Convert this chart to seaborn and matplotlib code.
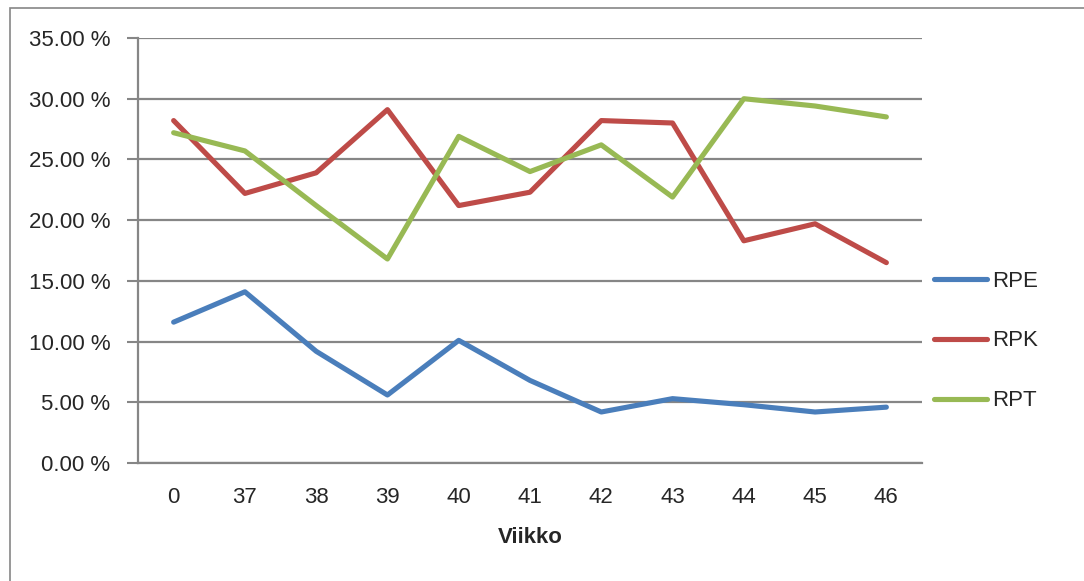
import pandas as pd
import numpy as np
import matplotlib.pyplot as plt
import seaborn as sns
from matplotlib.patches import Rectangle
from matplotlib.ticker import FuncFormatter, FixedLocator

# Viikot ja sarjojen arvot (%)
viikot = ["0", "37", "38", "39", "40", "41", "42", "43", "44", "45", "46"]
rpe = [11.6, 14.1, 9.2, 5.6, 10.1, 6.8, 4.2, 5.3, 4.8, 4.2, 4.6]
rpk = [28.2, 22.2, 23.9, 29.1, 21.2, 22.3, 28.2, 28.0, 18.3, 19.7, 16.5]
rpt = [27.2, 25.7, 21.2, 16.8, 26.9, 24.0, 26.2, 21.9, 30.0, 29.4, 28.5]

df = pd.DataFrame({"Viikko": viikot * 3,
                   "Arvo": rpe + rpk + rpt,
                   "Sarja": ["RPE"] * 11 + ["RPK"] * 11 + ["RPT"] * 11})

sns.set_style("white")
plt.rcParams['font.family'] = ['Liberation Sans', 'DejaVu Sans']

fig = plt.figure(figsize=(10.84, 5.81), dpi=100)
ax = fig.add_axes([138/1084, 1 - 463/581, (922-138)/1084, (463-38)/581])

palette = {"RPE": "#4A7EBB", "RPK": "#BE4B48", "RPT": "#98B954"}
sns.lineplot(data=df, x="Viikko", y="Arvo", hue="Sarja", palette=palette,
             linewidth=3.7, sort=False, ax=ax, legend=True)

grid_c = "#868686"
fs = 16
ax.set_ylim(0, 35)
ax.set_xlim(-0.5, len(viikot) - 0.5)
ax.set_yticks(np.arange(0, 36, 5))
ax.yaxis.set_major_formatter(FuncFormatter(lambda v, p: f"{v:.2f} %"))
ax.yaxis.grid(True, color=grid_c, linewidth=1.6)
ax.set_axisbelow(True)

# tikit kategorioiden väleihin
ax.set_xticks(range(len(viikot)))
ax.set_xticklabels(viikot)
ax.tick_params(axis='x', length=0, labelsize=fs, pad=17)
ax.xaxis.set_minor_locator(FixedLocator(np.arange(-0.5, len(viikot), 1)))
ax.tick_params(axis='x', which='minor', length=8, width=1.5, color=grid_c)
ax.tick_params(axis='y', length=8, width=1.5, color=grid_c, labelsize=fs, pad=12)
ax.tick_params(axis='y', direction='out', left=True)

for s in ["top", "right"]:
    ax.spines[s].set_visible(False)
for s in ["left", "bottom"]:
    ax.spines[s].set_color(grid_c)
    ax.spines[s].set_linewidth(1.6)

ax.set_ylabel("")
ax.set_xlabel("Viikko", fontsize=fs, fontweight='bold', labelpad=14)

handles, labels = ax.get_legend_handles_labels()
ax.legend(handles, labels, loc='center left', bbox_to_anchor=(934/1084, 1 - 341/581),
          bbox_transform=fig.transFigure, frameon=False, fontsize=fs,
          handlelength=2.4, handletextpad=0.2, labelspacing=1.75, borderaxespad=0,
          borderpad=0)

# ulompi kehys
fig.patches.append(Rectangle((10/1084, -0.1), 1.2, 1 - 8/581 + 0.1, transform=fig.transFigure,
                             fill=False, edgecolor=grid_c, linewidth=1.2))

fig.savefig("out.png", dpi=100)
